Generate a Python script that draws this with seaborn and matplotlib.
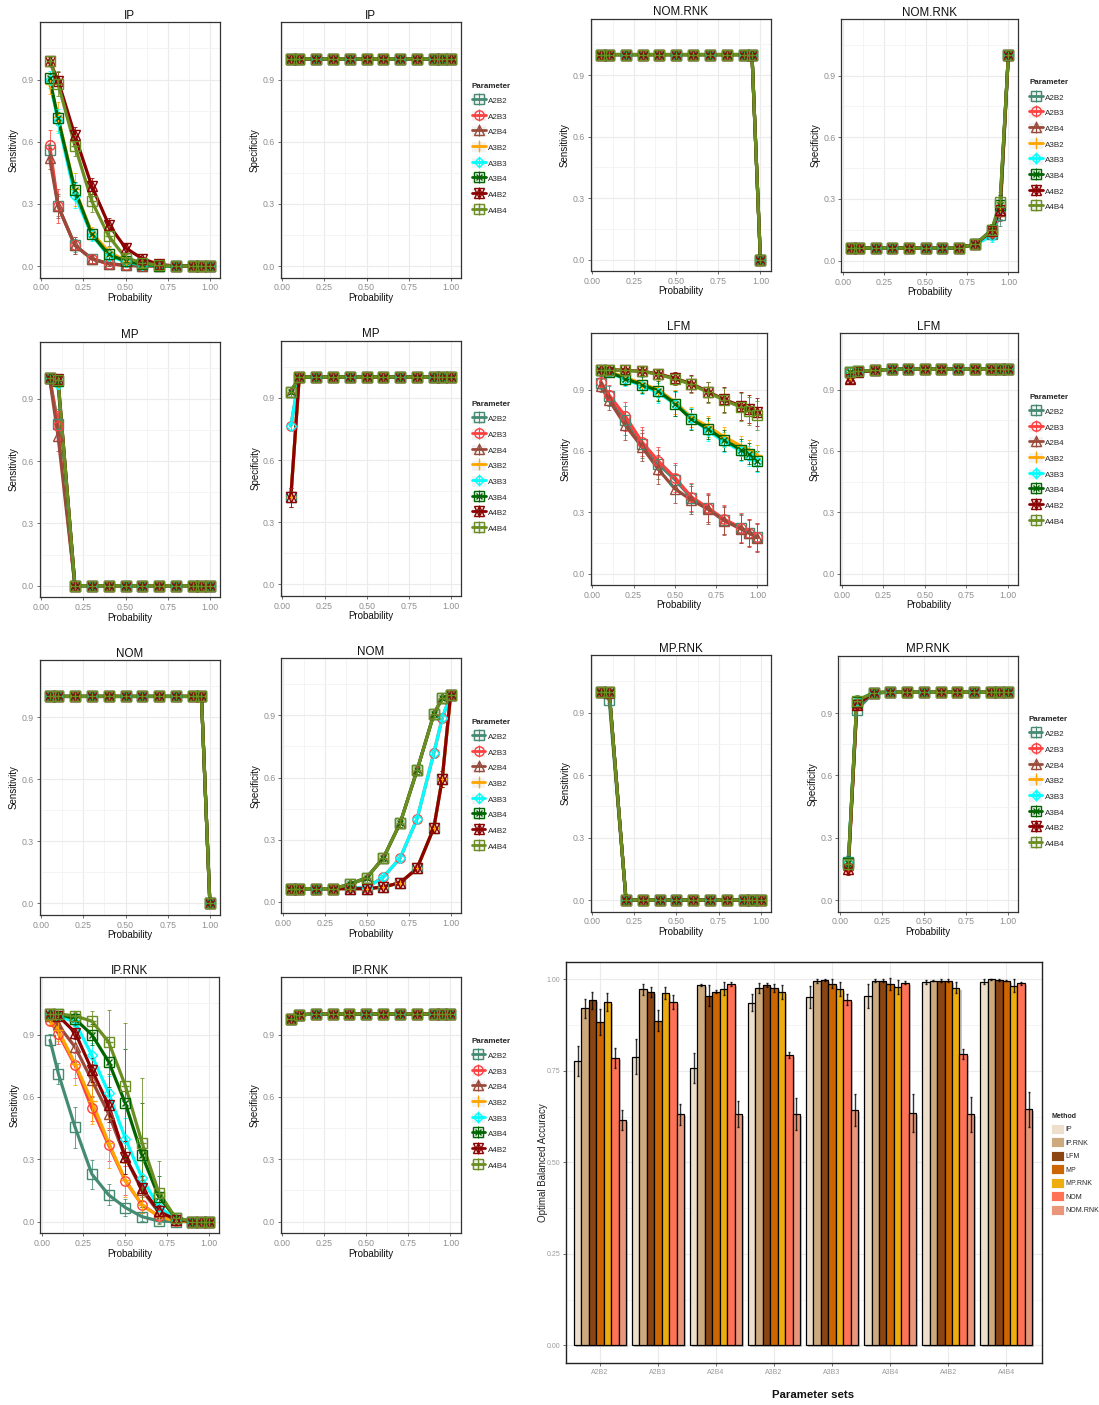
import numpy as np
import pandas as pd
import matplotlib
matplotlib.use("Agg")
import matplotlib.pyplot as plt
import matplotlib.patheffects as pe
from matplotlib.lines import Line2D
from matplotlib.patches import Rectangle, Patch
import seaborn as sns

sns.set_theme(style="white")
plt.rcParams["font.family"] = ["Liberation Sans", "DejaVu Sans"]

# ---------------------------------------------------------------- data
PROB = [0.05, 0.1, 0.2, 0.3, 0.4, 0.5, 0.6, 0.7, 0.8, 0.9, 0.95, 1.0]
PARAMS = ["A2B2", "A2B3", "A2B4", "A3B2", "A3B3", "A3B4", "A4B2", "A4B4"]
PARAM_COLORS = ["#458B74", "#FF4040", "#9A4A3A", "#FFA500",
                "#00FFFF", "#006400", "#8B0000", "#6B8E23"]

TINY_ERR = [0.004, 0.003, 0.002, 0.002, 0.002, 0.002, 0.002, 0.002, 0.002, 0.002, 0.002, 0.002]
ZERO_ERR = [0.0, 0.0, 0.0, 0.0, 0.0, 0.0, 0.0, 0.0, 0.0, 0.0, 0.0, 0.0]

# IP
IP_SENS = {
    "A2B2": [0.56, 0.29, 0.10, 0.035, 0.012, 0.004, 0.001, 0.0, 0.0, 0.0, 0.0, 0.0],
    "A2B3": [0.585, 0.29, 0.10, 0.035, 0.010, 0.003, 0.001, 0.0, 0.0, 0.0, 0.0, 0.0],
    "A2B4": [0.52, 0.29, 0.10, 0.035, 0.012, 0.004, 0.001, 0.0, 0.0, 0.0, 0.0, 0.0],
    "A3B2": [0.88, 0.72, 0.37, 0.16, 0.07, 0.025, 0.008, 0.002, 0.0, 0.0, 0.0, 0.0],
    "A3B3": [0.90, 0.70, 0.34, 0.15, 0.05, 0.02, 0.005, 0.001, 0.0, 0.0, 0.0, 0.0],
    "A3B4": [0.905, 0.712, 0.366, 0.153, 0.056, 0.024, 0.008, 0.002, 0.0, 0.0, 0.0, 0.0],
    "A4B2": [0.99, 0.895, 0.63, 0.386, 0.20, 0.088, 0.035, 0.008, 0.0, 0.0, 0.0, 0.0],
    "A4B4": [0.99, 0.88, 0.58, 0.313, 0.145, 0.04, 0.016, 0.003, 0.0, 0.0, 0.0, 0.0],
}
IP_SENS_ERR = {
    "A2B2": [0.05, 0.05, 0.03, 0.02, 0.01, 0.005, 0.0, 0.0, 0.0, 0.0, 0.0, 0.0],
    "A2B3": [0.07, 0.08, 0.04, 0.02, 0.01, 0.005, 0.0, 0.0, 0.0, 0.0, 0.0, 0.0],
    "A2B4": [0.05, 0.06, 0.04, 0.02, 0.01, 0.005, 0.0, 0.0, 0.0, 0.0, 0.0, 0.0],
    "A3B2": [0.05, 0.07, 0.08, 0.03, 0.02, 0.01, 0.005, 0.0, 0.0, 0.0, 0.0, 0.0],
    "A3B3": [0.04, 0.06, 0.06, 0.03, 0.02, 0.01, 0.005, 0.0, 0.0, 0.0, 0.0, 0.0],
    "A3B4": [0.02, 0.03, 0.04, 0.02, 0.02, 0.01, 0.005, 0.0, 0.0, 0.0, 0.0, 0.0],
    "A4B2": [0.02, 0.04, 0.04, 0.04, 0.03, 0.02, 0.01, 0.005, 0.0, 0.0, 0.0, 0.0],
    "A4B4": [0.02, 0.06, 0.05, 0.05, 0.05, 0.02, 0.01, 0.005, 0.0, 0.0, 0.0, 0.0],
}
IP_SPEC_ALL = [0.998, 1.0, 1.0, 1.0, 1.0, 1.0, 1.0, 1.0, 1.0, 1.0, 1.0, 1.0]

# NOM.RNK
NOM_RNK_SENS_ALL = [1.0, 1.0, 1.0, 1.0, 1.0, 1.0, 1.0, 1.0, 1.0, 1.0, 1.0, 0.0]
NOM_RNK_SPEC = {
    "A2B2": [0.06, 0.06, 0.06, 0.06, 0.06, 0.06, 0.06, 0.063, 0.078, 0.13, 0.22, 1.0],
    "A2B3": [0.06, 0.06, 0.06, 0.06, 0.06, 0.06, 0.06, 0.063, 0.078, 0.14, 0.25, 1.0],
    "A2B4": [0.06, 0.06, 0.06, 0.06, 0.06, 0.06, 0.06, 0.063, 0.078, 0.135, 0.24, 1.0],
    "A3B2": [0.06, 0.06, 0.06, 0.06, 0.06, 0.06, 0.06, 0.063, 0.078, 0.14, 0.26, 1.0],
    "A3B3": [0.06, 0.06, 0.06, 0.06, 0.06, 0.06, 0.06, 0.063, 0.078, 0.12, 0.25, 1.0],
    "A3B4": [0.06, 0.06, 0.06, 0.06, 0.06, 0.06, 0.06, 0.063, 0.078, 0.15, 0.27, 1.0],
    "A4B2": [0.06, 0.06, 0.06, 0.06, 0.06, 0.06, 0.06, 0.063, 0.078, 0.145, 0.245, 1.0],
    "A4B4": [0.06, 0.06, 0.06, 0.06, 0.06, 0.06, 0.06, 0.063, 0.078, 0.15, 0.285, 1.0],
}
NOM_RNK_SPEC_ERR = [0.005, 0.005, 0.005, 0.005, 0.005, 0.005, 0.005, 0.008, 0.012, 0.03, 0.05, 0.005]

# MP
MP_SENS = {
    "A2B2": [1.0, 0.78, 0.0, 0.0, 0.0, 0.0, 0.0, 0.0, 0.0, 0.0, 0.0, 0.0],
    "A2B3": [1.0, 0.77, 0.0, 0.0, 0.0, 0.0, 0.0, 0.0, 0.0, 0.0, 0.0, 0.0],
    "A2B4": [1.0, 0.72, 0.0, 0.0, 0.0, 0.0, 0.0, 0.0, 0.0, 0.0, 0.0, 0.0],
    "A3B2": [1.0, 0.97, 0.0, 0.0, 0.0, 0.0, 0.0, 0.0, 0.0, 0.0, 0.0, 0.0],
    "A3B3": [1.0, 0.97, 0.0, 0.0, 0.0, 0.0, 0.0, 0.0, 0.0, 0.0, 0.0, 0.0],
    "A3B4": [1.0, 0.985, 0.0, 0.0, 0.0, 0.0, 0.0, 0.0, 0.0, 0.0, 0.0, 0.0],
    "A4B2": [1.0, 0.995, 0.0, 0.0, 0.0, 0.0, 0.0, 0.0, 0.0, 0.0, 0.0, 0.0],
    "A4B4": [1.0, 0.99, 0.0, 0.0, 0.0, 0.0, 0.0, 0.0, 0.0, 0.0, 0.0, 0.0],
}
MP_SENS_ERR_A2 = [0.003, 0.07, 0.0, 0.0, 0.0, 0.0, 0.0, 0.0, 0.0, 0.0, 0.0, 0.0]
MP_SENS_ERR_A34 = [0.002, 0.02, 0.0, 0.0, 0.0, 0.0, 0.0, 0.0, 0.0, 0.0, 0.0, 0.0]
MP_SPEC_B2 = [0.42, 1.0, 1.0, 1.0, 1.0, 1.0, 1.0, 1.0, 1.0, 1.0, 1.0, 1.0]
MP_SPEC_B3 = [0.765, 1.0, 1.0, 1.0, 1.0, 1.0, 1.0, 1.0, 1.0, 1.0, 1.0, 1.0]
MP_SPEC_B4 = [0.93, 1.0, 1.0, 1.0, 1.0, 1.0, 1.0, 1.0, 1.0, 1.0, 1.0, 1.0]
MP_SPEC_ERR_B2 = [0.045, 0.002, 0.0, 0.0, 0.0, 0.0, 0.0, 0.0, 0.0, 0.0, 0.0, 0.0]
MP_SPEC_ERR_B3 = [0.02, 0.002, 0.0, 0.0, 0.0, 0.0, 0.0, 0.0, 0.0, 0.0, 0.0, 0.0]
MP_SPEC_ERR_B4 = [0.012, 0.002, 0.0, 0.0, 0.0, 0.0, 0.0, 0.0, 0.0, 0.0, 0.0, 0.0]

# LFM
LFM_SENS = {
    "A2B2": [0.935, 0.87, 0.75, 0.635, 0.535, 0.46, 0.37, 0.32, 0.262, 0.222, 0.20, 0.178],
    "A2B3": [0.94, 0.875, 0.77, 0.645, 0.55, 0.47, 0.375, 0.322, 0.265, 0.225, 0.20, 0.178],
    "A2B4": [0.92, 0.85, 0.725, 0.62, 0.51, 0.415, 0.36, 0.315, 0.258, 0.218, 0.197, 0.175],
    "A3B2": [0.995, 0.99, 0.96, 0.93, 0.90, 0.84, 0.765, 0.72, 0.668, 0.625, 0.605, 0.58],
    "A3B3": [0.995, 0.985, 0.95, 0.92, 0.885, 0.83, 0.76, 0.70, 0.645, 0.60, 0.575, 0.545],
    "A3B4": [0.995, 0.986, 0.954, 0.925, 0.894, 0.832, 0.755, 0.709, 0.652, 0.607, 0.587, 0.55],
    "A4B2": [0.998, 0.998, 0.995, 0.99, 0.978, 0.955, 0.93, 0.89, 0.852, 0.82, 0.805, 0.79],
    "A4B4": [0.998, 0.997, 0.994, 0.99, 0.975, 0.952, 0.926, 0.887, 0.848, 0.815, 0.795, 0.775],
}
LFM_SENS_ERR_A2 = [0.03, 0.05, 0.07, 0.07, 0.07, 0.07, 0.07, 0.07, 0.07, 0.07, 0.065, 0.07]
LFM_SENS_ERR_A3 = [0.01, 0.02, 0.03, 0.04, 0.05, 0.06, 0.05, 0.05, 0.05, 0.05, 0.05, 0.05]
LFM_SENS_ERR_A4 = [0.005, 0.005, 0.01, 0.02, 0.02, 0.03, 0.04, 0.05, 0.06, 0.07, 0.07, 0.07]
LFM_SPEC = {
    "A2B2": [0.985, 0.99, 0.995, 1.0, 1.0, 1.0, 1.0, 1.0, 1.0, 1.0, 1.0, 1.0],
    "A2B3": [0.985, 0.99, 0.995, 1.0, 1.0, 1.0, 1.0, 1.0, 1.0, 1.0, 1.0, 1.0],
    "A2B4": [0.955, 0.99, 0.995, 1.0, 1.0, 1.0, 1.0, 1.0, 1.0, 1.0, 1.0, 1.0],
    "A3B2": [0.97, 0.99, 0.995, 1.0, 1.0, 1.0, 1.0, 1.0, 1.0, 1.0, 1.0, 1.0],
    "A3B3": [0.985, 0.99, 0.995, 1.0, 1.0, 1.0, 1.0, 1.0, 1.0, 1.0, 1.0, 1.0],
    "A3B4": [0.985, 0.99, 0.995, 1.0, 1.0, 1.0, 1.0, 1.0, 1.0, 1.0, 1.0, 1.0],
    "A4B2": [0.95, 0.985, 0.995, 1.0, 1.0, 1.0, 1.0, 1.0, 1.0, 1.0, 1.0, 1.0],
    "A4B4": [0.985, 0.99, 0.995, 1.0, 1.0, 1.0, 1.0, 1.0, 1.0, 1.0, 1.0, 1.0],
}
LFM_SPEC_ERR = [0.02, 0.01, 0.005, 0.003, 0.002, 0.002, 0.002, 0.002, 0.002, 0.002, 0.002, 0.002]

# NOM
NOM_SENS_ALL = [1.0, 1.0, 1.0, 1.0, 1.0, 1.0, 1.0, 1.0, 1.0, 1.0, 1.0, 0.0]
NOM_SPEC_B2 = [0.063, 0.063, 0.063, 0.063, 0.063, 0.063, 0.071, 0.092, 0.161, 0.357, 0.593, 1.0]
NOM_SPEC_B3 = [0.063, 0.063, 0.063, 0.063, 0.066, 0.068, 0.119, 0.212, 0.40, 0.718, 0.887, 1.0]
NOM_SPEC_B4 = [0.063, 0.063, 0.063, 0.063, 0.084, 0.116, 0.212, 0.381, 0.635, 0.906, 0.984, 1.0]
NOM_SPEC_ERR_B2 = [0.005, 0.005, 0.005, 0.005, 0.005, 0.005, 0.008, 0.01, 0.015, 0.025, 0.04, 0.003]
NOM_SPEC_ERR_B3 = [0.005, 0.005, 0.005, 0.005, 0.006, 0.008, 0.012, 0.015, 0.02, 0.025, 0.015, 0.003]
NOM_SPEC_ERR_B4 = [0.005, 0.005, 0.005, 0.005, 0.008, 0.01, 0.015, 0.02, 0.02, 0.015, 0.01, 0.003]

# MP.RNK
MP_RNK_SENS = {
    "A2B2": [1.0, 0.96, 0.0, 0.0, 0.0, 0.0, 0.0, 0.0, 0.0, 0.0, 0.0, 0.0],
    "A2B3": [1.0, 0.995, 0.0, 0.0, 0.0, 0.0, 0.0, 0.0, 0.0, 0.0, 0.0, 0.0],
    "A2B4": [1.0, 0.995, 0.0, 0.0, 0.0, 0.0, 0.0, 0.0, 0.0, 0.0, 0.0, 0.0],
    "A3B2": [1.0, 1.0, 0.0, 0.0, 0.0, 0.0, 0.0, 0.0, 0.0, 0.0, 0.0, 0.0],
    "A3B3": [1.0, 1.0, 0.0, 0.0, 0.0, 0.0, 0.0, 0.0, 0.0, 0.0, 0.0, 0.0],
    "A3B4": [1.0, 1.0, 0.0, 0.0, 0.0, 0.0, 0.0, 0.0, 0.0, 0.0, 0.0, 0.0],
    "A4B2": [1.0, 1.0, 0.0, 0.0, 0.0, 0.0, 0.0, 0.0, 0.0, 0.0, 0.0, 0.0],
    "A4B4": [1.0, 1.0, 0.0, 0.0, 0.0, 0.0, 0.0, 0.0, 0.0, 0.0, 0.0, 0.0],
}
MP_RNK_SENS_ERR = [0.003, 0.015, 0.0, 0.0, 0.0, 0.0, 0.0, 0.0, 0.0, 0.0, 0.0, 0.0]
MP_RNK_SPEC = {
    "A2B2": [0.185, 0.915, 0.998, 1.0, 1.0, 1.0, 1.0, 1.0, 1.0, 1.0, 1.0, 1.0],
    "A2B3": [0.16, 0.94, 0.998, 1.0, 1.0, 1.0, 1.0, 1.0, 1.0, 1.0, 1.0, 1.0],
    "A2B4": [0.17, 0.95, 0.998, 1.0, 1.0, 1.0, 1.0, 1.0, 1.0, 1.0, 1.0, 1.0],
    "A3B2": [0.17, 0.95, 0.998, 1.0, 1.0, 1.0, 1.0, 1.0, 1.0, 1.0, 1.0, 1.0],
    "A3B3": [0.18, 0.96, 0.998, 1.0, 1.0, 1.0, 1.0, 1.0, 1.0, 1.0, 1.0, 1.0],
    "A3B4": [0.18, 0.955, 0.998, 1.0, 1.0, 1.0, 1.0, 1.0, 1.0, 1.0, 1.0, 1.0],
    "A4B2": [0.15, 0.94, 0.998, 1.0, 1.0, 1.0, 1.0, 1.0, 1.0, 1.0, 1.0, 1.0],
    "A4B4": [0.175, 0.96, 0.998, 1.0, 1.0, 1.0, 1.0, 1.0, 1.0, 1.0, 1.0, 1.0],
}
MP_RNK_SPEC_ERR = [0.03, 0.025, 0.003, 0.002, 0.002, 0.002, 0.002, 0.002, 0.002, 0.002, 0.002, 0.002]

# IP.RNK
IP_RNK_SENS = {
    "A2B2": [0.873, 0.712, 0.454, 0.229, 0.129, 0.068, 0.024, 0.003, 0.0, 0.0, 0.0, 0.0],
    "A2B3": [0.965, 0.905, 0.752, 0.546, 0.37, 0.196, 0.08, 0.027, 0.005, 0.0, 0.0, 0.0],
    "A2B4": [0.99, 0.945, 0.84, 0.68, 0.52, 0.31, 0.15, 0.045, 0.008, 0.0, 0.0, 0.0],
    "A3B2": [0.97, 0.92, 0.76, 0.58, 0.38, 0.20, 0.08, 0.025, 0.003, 0.0, 0.0, 0.0],
    "A3B3": [1.0, 0.99, 0.96, 0.80, 0.62, 0.40, 0.21, 0.07, 0.015, 0.0, 0.0, 0.0],
    "A3B4": [1.0, 1.0, 0.975, 0.90, 0.77, 0.57, 0.32, 0.12, 0.02, 0.0, 0.0, 0.0],
    "A4B2": [1.0, 0.99, 0.91, 0.73, 0.56, 0.31, 0.16, 0.05, 0.01, 0.0, 0.0, 0.0],
    "A4B4": [1.0, 1.0, 0.99, 0.965, 0.865, 0.655, 0.38, 0.14, 0.02, 0.0, 0.0, 0.0],
}
IP_RNK_SENS_ERR = {
    "A2B2": [0.03, 0.05, 0.10, 0.07, 0.05, 0.04, 0.02, 0.01, 0.0, 0.0, 0.0, 0.0],
    "A2B3": [0.02, 0.05, 0.06, 0.06, 0.08, 0.07, 0.04, 0.02, 0.01, 0.0, 0.0, 0.0],
    "A2B4": [0.01, 0.03, 0.07, 0.08, 0.08, 0.08, 0.05, 0.02, 0.01, 0.0, 0.0, 0.0],
    "A3B2": [0.02, 0.05, 0.10, 0.11, 0.12, 0.08, 0.04, 0.02, 0.005, 0.0, 0.0, 0.0],
    "A3B3": [0.005, 0.02, 0.04, 0.06, 0.08, 0.10, 0.08, 0.04, 0.01, 0.0, 0.0, 0.0],
    "A3B4": [0.003, 0.005, 0.03, 0.05, 0.12, 0.26, 0.25, 0.10, 0.02, 0.0, 0.0, 0.0],
    "A4B2": [0.003, 0.01, 0.03, 0.06, 0.08, 0.08, 0.06, 0.03, 0.01, 0.0, 0.0, 0.0],
    "A4B4": [0.003, 0.005, 0.02, 0.05, 0.155, 0.30, 0.31, 0.15, 0.02, 0.0, 0.0, 0.0],
}
IP_RNK_SPEC_ALL = [0.975, 0.995, 1.0, 1.0, 1.0, 1.0, 1.0, 1.0, 1.0, 1.0, 1.0, 1.0]
IP_RNK_SPEC_ERR = [0.012, 0.004, 0.002, 0.002, 0.002, 0.002, 0.002, 0.002, 0.002, 0.002, 0.002, 0.002]

# Optimal balanced accuracy per method (values in PARAMS order)
METHODS = ["IP", "IP.RNK", "LFM", "MP", "MP.RNK", "NOM", "NOM.RNK"]
METHOD_COLORS = ["#EEDFCC", "#CDAA7D", "#8B4513", "#CD6600", "#EEAD0E", "#FF7256", "#E9967A"]
BAL_ACC = {
    "IP":      [0.777, 0.789, 0.758, 0.936, 0.952, 0.954, 0.994, 0.994],
    "IP.RNK":  [0.921, 0.973, 0.986, 0.977, 0.996, 0.997, 0.997, 1.000],
    "LFM":     [0.943, 0.966, 0.956, 0.985, 0.998, 0.997, 0.997, 0.998],
    "MP":      [0.884, 0.887, 0.966, 0.977, 0.988, 0.988, 0.997, 0.997],
    "MP.RNK":  [0.939, 0.963, 0.975, 0.966, 0.974, 0.980, 0.977, 0.983],
    "NOM":     [0.786, 0.938, 0.988, 0.794, 0.945, 0.991, 0.797, 0.990],
    "NOM.RNK": [0.615, 0.632, 0.633, 0.633, 0.643, 0.635, 0.632, 0.645],
}
BAL_ACC_ERR = {
    "IP":      [0.040, 0.048, 0.041, 0.023, 0.029, 0.033, 0.005, 0.007],
    "IP.RNK":  [0.026, 0.015, 0.003, 0.013, 0.005, 0.003, 0.002, 0.001],
    "LFM":     [0.023, 0.013, 0.029, 0.006, 0.002, 0.005, 0.005, 0.002],
    "MP":      [0.035, 0.029, 0.004, 0.012, 0.012, 0.017, 0.005, 0.002],
    "MP.RNK":  [0.025, 0.017, 0.017, 0.018, 0.020, 0.019, 0.015, 0.017],
    "NOM":     [0.027, 0.019, 0.005, 0.009, 0.014, 0.004, 0.014, 0.004],
    "NOM.RNK": [0.027, 0.029, 0.036, 0.043, 0.043, 0.051, 0.048, 0.048],
}

# ------------------------------------------------------- derived tables
def same_for_all(series):
    return {p: series for p in PARAMS}

def by_a(a2, a3, a4):
    return {p: {"2": a2, "3": a3, "4": a4}[p[1]] for p in PARAMS}

def by_b(b2, b3, b4):
    return {p: {"2": b2, "3": b3, "4": b4}[p[3]] for p in PARAMS}

PANELS = [
    # title, y label, values, errors, (left, top, right, bottom) in px, legend
    ("IP", "Sensitivity", IP_SENS, IP_SENS_ERR, (39.5, 22.3, 220, 277.7), False),
    ("IP", "Specificity", same_for_all(IP_SPEC_ALL), same_for_all(TINY_ERR), (280.5, 22.3, 461, 277.7), True),
    ("NOM.RNK", "Sensitivity", same_for_all(NOM_RNK_SENS_ALL), same_for_all(ZERO_ERR), (590.5, 18.5, 770.5, 271), False),
    ("NOM.RNK", "Specificity", NOM_RNK_SPEC, same_for_all(NOM_RNK_SPEC_ERR), (841, 19, 1018.3, 272), True),
    ("MP", "Sensitivity", MP_SENS, by_a(MP_SENS_ERR_A2, MP_SENS_ERR_A34, MP_SENS_ERR_A34), (39.5, 341.7, 220, 597.3), False),
    ("MP", "Specificity", by_b(MP_SPEC_B2, MP_SPEC_B3, MP_SPEC_B4), by_b(MP_SPEC_ERR_B2, MP_SPEC_ERR_B3, MP_SPEC_ERR_B4), (280.7, 340.7, 461, 596), True),
    ("LFM", "Sensitivity", LFM_SENS, by_a(LFM_SENS_ERR_A2, LFM_SENS_ERR_A3, LFM_SENS_ERR_A4), (590.7, 333.3, 767.3, 585), False),
    ("LFM", "Specificity", LFM_SPEC, same_for_all(LFM_SPEC_ERR), (840, 333.3, 1018, 585), True),
    ("NOM", "Sensitivity", same_for_all(NOM_SENS_ALL), same_for_all(ZERO_ERR), (39.5, 660, 220, 915), False),
    ("NOM", "Specificity", by_b(NOM_SPEC_B2, NOM_SPEC_B3, NOM_SPEC_B4), by_b(NOM_SPEC_ERR_B2, NOM_SPEC_ERR_B3, NOM_SPEC_ERR_B4), (281, 658.3, 460.7, 913.3), True),
    ("MP.RNK", "Sensitivity", MP_RNK_SENS, same_for_all(MP_RNK_SENS_ERR), (590.7, 655, 770.7, 911.7), False),
    ("MP.RNK", "Specificity", MP_RNK_SPEC, same_for_all(MP_RNK_SPEC_ERR), (838.3, 655.7, 1017.7, 911.7), True),
    ("IP.RNK", "Sensitivity", IP_RNK_SENS, IP_RNK_SENS_ERR, (40, 977.3, 219, 1233.3), False),
    ("IP.RNK", "Specificity", same_for_all(IP_RNK_SPEC_ALL), same_for_all(IP_RNK_SPEC_ERR), (280.5, 977.3, 460.5, 1233.3), True),
]

PALETTE = dict(zip(PARAMS, PARAM_COLORS))
# marker layers per parameter (open shapes, some stacked)
MARKERS = {
    "A2B2": [("s", 6.5)],
    "A2B3": [("o", 6.8)],
    "A2B4": [("^", 7.0)],
    "A3B2": [("+", 7.5)],
    "A3B3": [("D", 5.5)],
    "A3B4": [("s", 6.5), ("x", 5.0)],
    "A4B2": [("^", 7.0), ("v", 7.0)],
    "A4B4": [("s", 6.5), ("+", 6.0)],
}

# ---------------------------------------------------------------- figure
W, H = 1099, 1405
fig = plt.figure(figsize=(W / 100, H / 100), dpi=100)
fig.patch.set_facecolor("white")


def px_axes(l, t, r, b):
    return fig.add_axes([l / W, 1 - b / H, (r - l) / W, (b - t) / H])


def style_line_panel(ax, title, ylabel):
    ax.set_xlim(-0.01, 1.06)
    ax.set_ylim(-0.056, 1.176)
    ax.set_xticks([0, 0.25, 0.5, 0.75, 1.0])
    ax.set_xticklabels(["0.00", "0.25", "0.50", "0.75", "1.00"])
    ax.set_yticks([0, 0.3, 0.6, 0.9])
    ax.set_yticklabels(["0.0", "0.3", "0.6", "0.9"])
    ax.set_xticks([0.125, 0.375, 0.625, 0.875], minor=True)
    ax.set_yticks([0.15, 0.45, 0.75, 1.05], minor=True)
    ax.grid(which="major", color="#EBEBEB", lw=0.8)
    ax.grid(which="minor", color="#F3F3F3", lw=0.6)
    ax.set_axisbelow(True)
    ax.tick_params(which="minor", length=0)
    ax.tick_params(which="major", length=2.5, width=0.6, color="#555555",
                   labelsize=6.3, labelcolor="#8F8F8F", pad=1.5,
                   bottom=True, left=True)
    for s in ax.spines.values():
        s.set_color("#333333")
        s.set_linewidth(0.9)
    ax.set_title(title, fontsize=8.4, pad=2.5, color="#111111")
    ax.set_xlabel("Probability", fontsize=7, labelpad=0.5, color="#111111")
    ax.set_ylabel(ylabel, fontsize=7, labelpad=2, color="#111111")


def legend_handles():
    handles = []
    for p, c in zip(PARAMS, PARAM_COLORS):
        parts = [Rectangle((0, 0), 1, 1, facecolor="#F2F2F2", edgecolor="none"),
                 Line2D([], [], color=c, lw=2.0),
                 Line2D([], [], ls="none", marker="|", ms=9, mew=0.8, color=c)]
        for m, ms in MARKERS[p]:
            parts.append(Line2D([], [], ls="none", marker=m, ms=ms, mfc="none",
                                mec=c, mew=1.0))
        handles.append(tuple(parts))
    return handles


for title, ylab, vals, errs, rect, with_legend in PANELS:
    ax = px_axes(*rect)
    rows = [(p, x, v) for p in PARAMS for x, v in zip(PROB, vals[p])]
    df = pd.DataFrame(rows, columns=["Parameter", "Probability", "value"])
    sns.lineplot(data=df, x="Probability", y="value", hue="Parameter",
                 hue_order=PARAMS, palette=PALETTE, linewidth=2.3,
                 estimator=None, sort=False, legend=False, ax=ax, zorder=2)
    for p in PARAMS:
        c = PALETTE[p]
        ax.errorbar(PROB, vals[p], yerr=errs[p], fmt="none", ecolor=c,
                    elinewidth=0.7, capsize=1.2, capthick=0.7, alpha=0.8,
                    zorder=2.6)
    for p in PARAMS:
        c = PALETTE[p]
        for m, ms in MARKERS[p]:
            ax.plot(PROB, vals[p], ls="none", marker=m, ms=ms, mfc="none",
                    mec=c, mew=1.0, zorder=3)
    style_line_panel(ax, title, ylab)
    if with_legend:
        w = rect[2] - rect[0]
        h = rect[3] - rect[1]
        leg = ax.legend(legend_handles(), PARAMS, title="Parameter",
                        loc="upper left",
                        bbox_to_anchor=(1 + 11 / w, 1 - 60.5 / h),
                        frameon=False, fontsize=5.8, title_fontsize=5.8,
                        handlelength=1.7, handleheight=1.6,
                        labelspacing=0.66, handletextpad=0.3,
                        borderpad=0, borderaxespad=0, alignment="left")
        leg.get_title().set_fontweight("bold")

# ----------------------------------------------------------- bar chart
bax = px_axes(565.7, 962.3, 1041.7, 1363.3)
brows = [(m, p, v) for m in METHODS for p, v in zip(PARAMS, BAL_ACC[m])]
bdf = pd.DataFrame(brows, columns=["Method", "Parameter", "acc"])
sns.barplot(data=bdf, x="Parameter", y="acc", hue="Method", order=PARAMS,
            hue_order=METHODS, palette=dict(zip(METHODS, METHOD_COLORS)),
            width=0.9, gap=0, saturation=1, edgecolor="black", linewidth=0.9,
            errorbar=None, legend=False, ax=bax, zorder=2)
for patch in bax.patches:
    patch.set_path_effects([pe.SimplePatchShadow(offset=(1.5, -1.5),
                                                 shadow_rgbFace="#888888",
                                                 alpha=0.45),
                            pe.Normal()])
for cont, m in zip(bax.containers, METHODS):
    xs = [b.get_x() + b.get_width() / 2 for b in cont]
    bax.errorbar(xs, BAL_ACC[m], yerr=BAL_ACC_ERR[m], fmt="none",
                 ecolor="black", elinewidth=1.0, capsize=0.8, alpha=0.8,
                 zorder=3)

bax.set_xlim(-0.59, 7.61)
bax.set_ylim(-0.049, 1.047)
bax.set_yticks([0, 0.25, 0.5, 0.75, 1.0])
bax.set_yticklabels(["0.00", "0.25", "0.50", "0.75", "1.00"])
bax.set_yticks([0.125, 0.375, 0.625, 0.875], minor=True)
bax.grid(axis="y", which="major", color="#EBEBEB", lw=0.8)
bax.grid(axis="y", which="minor", color="#F3F3F3", lw=0.6)
bax.grid(axis="x", which="major", color="#EBEBEB", lw=0.8)
bax.set_axisbelow(True)
bax.tick_params(which="minor", length=0)
bax.tick_params(which="major", length=2.5, width=0.6, color="#555555",
                labelsize=5, labelcolor="#9A9A9A", pad=1.5,
                bottom=True, left=True)
for s in bax.spines.values():
    s.set_color("#222222")
    s.set_linewidth(1.0)
bax.set_xlabel("")
bax.set_ylabel("")
fig.text(543 / W, 1 - 1163 / H, "Optimal Balanced Accuracy", rotation=90,
         ha="center", va="center", fontsize=7, color="#222222")
fig.text(813 / W, 1 - 1395 / H, "Parameter sets", ha="center", va="center",
         fontsize=8.2, fontweight="bold", color="#111111")

bleg = bax.legend([Patch(facecolor=c, edgecolor="white", lw=0.6) for c in METHOD_COLORS],
                  METHODS, title="Method", loc="upper left",
                  bbox_to_anchor=(1 + 9.3 / 476, 1 - 151 / 401),
                  frameon=False, fontsize=5, title_fontsize=5,
                  handlelength=1.8, handleheight=1.85, labelspacing=0.5,
                  handletextpad=0.25, borderpad=0, borderaxespad=0,
                  alignment="left")
bleg.get_title().set_fontweight("bold")

fig.savefig("out.png", dpi=100, facecolor="white")
